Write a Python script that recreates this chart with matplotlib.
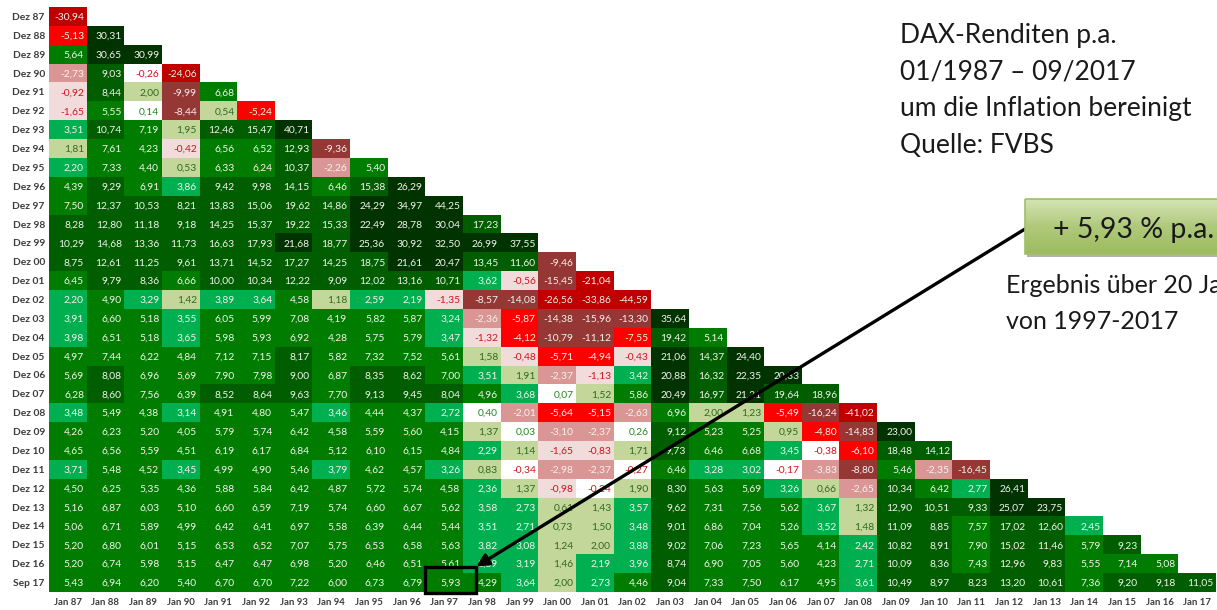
import numpy as np
import matplotlib
matplotlib.use("Agg")
import matplotlib.pyplot as plt
from matplotlib.colors import ListedColormap, BoundaryNorm, LinearSegmentedColormap
from matplotlib.patches import Rectangle

plt.rcParams["font.family"] = ["Lato", "DejaVu Sans"]

# real DAX returns p.a. (inflation adjusted): row = end of period, column = start
row_labels = ["Dez 87", "Dez 88", "Dez 89", "Dez 90", "Dez 91", "Dez 92", "Dez 93",
              "Dez 94", "Dez 95", "Dez 96", "Dez 97", "Dez 98", "Dez 99", "Dez 00",
              "Dez 01", "Dez 02", "Dez 03", "Dez 04", "Dez 05", "Dez 06", "Dez 07",
              "Dez 08", "Dez 09", "Dez 10", "Dez 11", "Dez 12", "Dez 13", "Dez 14",
              "Dez 15", "Dez 16", "Sep 17"]
col_labels = ["Jan 87", "Jan 88", "Jan 89", "Jan 90", "Jan 91", "Jan 92", "Jan 93",
              "Jan 94", "Jan 95", "Jan 96", "Jan 97", "Jan 98", "Jan 99", "Jan 00",
              "Jan 01", "Jan 02", "Jan 03", "Jan 04", "Jan 05", "Jan 06", "Jan 07",
              "Jan 08", "Jan 09", "Jan 10", "Jan 11", "Jan 12", "Jan 13", "Jan 14",
              "Jan 15", "Jan 16", "Jan 17"]

returns = [
    [-30.94],
    [-5.13, 30.31],
    [5.64, 30.65, 30.99],
    [-2.73, 9.03, -0.26, -24.06],
    [-0.92, 8.44, 2.00, -9.99, 6.68],
    [-1.65, 5.55, 0.14, -8.44, 0.54, -5.24],
    [3.51, 10.74, 7.19, 1.95, 12.46, 15.47, 40.71],
    [1.81, 7.61, 4.23, -0.42, 6.56, 6.52, 12.93, -9.36],
    [2.20, 7.33, 4.40, 0.53, 6.33, 6.24, 10.37, -2.26, 5.40],
    [4.39, 9.29, 6.91, 3.86, 9.42, 9.98, 14.15, 6.46, 15.38, 26.29],
    [7.50, 12.37, 10.53, 8.21, 13.83, 15.06, 19.62, 14.86, 24.29, 34.97, 44.25],
    [8.28, 12.80, 11.18, 9.18, 14.25, 15.37, 19.22, 15.33, 22.49, 28.78, 30.04, 17.23],
    [10.29, 14.68, 13.36, 11.73, 16.63, 17.93, 21.68, 18.77, 25.36, 30.92, 32.50, 26.99,
     37.55],
    [8.75, 12.61, 11.25, 9.61, 13.71, 14.52, 17.27, 14.25, 18.75, 21.61, 20.47, 13.45,
     11.60, -9.46],
    [6.45, 9.79, 8.36, 6.66, 10.00, 10.34, 12.22, 9.09, 12.02, 13.16, 10.71, 3.62,
     -0.56, -15.45, -21.04],
    [2.20, 4.90, 3.29, 1.42, 3.89, 3.64, 4.58, 1.18, 2.59, 2.19, -1.35, -8.57, -14.08,
     -26.56, -33.86, -44.59],
    [3.91, 6.60, 5.18, 3.55, 6.05, 5.99, 7.08, 4.19, 5.82, 5.87, 3.24, -2.36, -5.87,
     -14.38, -15.96, -13.30, 35.64],
    [3.98, 6.51, 5.18, 3.65, 5.98, 5.93, 6.92, 4.28, 5.75, 5.79, 3.47, -1.32, -4.12,
     -10.79, -11.12, -7.55, 19.42, 5.14],
    [4.97, 7.44, 6.22, 4.84, 7.12, 7.15, 8.17, 5.82, 7.32, 7.52, 5.61, 1.58, -0.48,
     -5.71, -4.94, -0.43, 21.06, 14.37, 24.40],
    [5.69, 8.08, 6.96, 5.69, 7.90, 7.98, 9.00, 6.87, 8.35, 8.62, 7.00, 3.51, 1.91,
     -2.37, -1.13, 3.42, 20.88, 16.32, 22.35, 20.33],
    [6.28, 8.60, 7.56, 6.39, 8.52, 8.64, 9.63, 7.70, 9.13, 9.45, 8.04, 4.96, 3.68,
     0.07, 1.52, 5.86, 20.49, 16.97, 21.21, 19.64, 18.96],
    [3.48, 5.49, 4.38, 3.14, 4.91, 4.80, 5.47, 3.46, 4.44, 4.37, 2.72, 0.40, -2.01,
     -5.64, -5.15, -2.63, 6.96, 2.00, 1.23, -5.49, -16.24, -41.02],
    [4.26, 6.23, 5.20, 4.05, 5.79, 5.74, 6.42, 4.58, 5.59, 5.60, 4.15, 1.37, 0.03,
     -3.10, -2.37, 0.26, 9.12, 5.23, 5.25, 0.95, -4.80, -14.83, 23.00],
    [4.65, 6.56, 5.59, 4.51, 6.19, 6.17, 6.84, 5.12, 6.10, 6.15, 4.84, 2.29, 1.14,
     -1.65, -0.83, 1.71, 9.73, 6.46, 6.68, 3.45, -0.38, -6.10, 18.48, 14.12],
    [3.71, 5.48, 4.52, 3.45, 4.99, 4.90, 5.46, 3.79, 4.62, 4.57, 3.26, 0.83, -0.34,
     -2.98, -2.37, -0.27, 6.46, 3.28, 3.02, -0.17, -3.83, -8.80, 5.46, -2.35, -16.45],
    [4.50, 6.25, 5.35, 4.36, 5.88, 5.84, 6.42, 4.87, 5.72, 5.74, 4.58, 2.36, 1.37,
     -0.98, -0.24, 1.90, 8.30, 5.63, 5.69, 3.26, 0.66, -2.65, 10.34, 6.42, 2.77, 26.41],
    [5.16, 6.87, 6.03, 5.10, 6.60, 6.59, 7.19, 5.74, 6.60, 6.67, 5.62, 3.58, 2.73,
     0.61, 1.43, 3.57, 9.62, 7.31, 7.56, 5.62, 3.67, 1.32, 12.90, 10.51, 9.33, 25.07,
     23.75],
    [5.06, 6.71, 5.89, 4.99, 6.42, 6.41, 6.97, 5.58, 6.39, 6.44, 5.44, 3.51, 2.71,
     0.73, 1.50, 3.48, 9.01, 6.86, 7.04, 5.26, 3.52, 1.48, 11.09, 8.85, 7.57, 17.02,
     12.60, 2.45],
    [5.20, 6.80, 6.01, 5.15, 6.53, 6.52, 7.07, 5.75, 6.53, 6.58, 5.63, 3.82, 3.08,
     1.24, 2.00, 3.88, 9.02, 7.06, 7.23, 5.65, 4.14, 2.42, 10.82, 8.91, 7.90, 15.02,
     11.46, 5.79, 9.23],
    [5.20, 6.74, 5.98, 5.15, 6.47, 6.47, 6.98, 5.20, 6.46, 6.51, 5.61, 3.89, 3.19,
     1.46, 2.19, 3.96, 8.74, 6.90, 7.05, 5.60, 4.23, 2.71, 10.09, 8.36, 7.43, 12.96,
     9.83, 5.55, 7.14, 5.08],
    [5.43, 6.94, 6.20, 5.40, 6.70, 6.70, 7.22, 6.00, 6.73, 6.79, 5.93, 4.29, 3.64,
     2.00, 2.73, 4.46, 9.04, 7.33, 7.50, 6.17, 4.95, 3.61, 10.49, 8.97, 8.23, 13.20,
     10.61, 7.36, 9.20, 9.18, 11.05],
]

highlight = ("Sep 17", "Jan 97")

# colour classes (Excel-like conditional formatting)
bounds = [-100, -20, -8, -4, -2, -0.4, 0.5, 2.005, 4, 8, 20, 100]
cell_colors = ["#C00000", "#953735", "#FF0000", "#DA9694", "#F2DCDB", "#FFFFFF",
               "#C4D79B", "#00B050", "#007D00", "#005E00", "#003300"]


def text_color(v):
    if -2 < v < 0:
        return "#D0121B"
    if -0.4 < v < 0.5:
        return "#1E8A1E"
    if 0.5 <= v <= 2.005:
        return "#2E6B1E"
    return "#F3F3EE"


n = len(row_labels)
grid = np.full((n, len(col_labels)), np.nan)
for r, vals in enumerate(returns):
    grid[r, :len(vals)] = vals

W, H = 1217, 610
fig = plt.figure(figsize=(W / 100, H / 100), dpi=100)
ax = fig.add_axes([49 / W, 1 - 592 / H, (1216 - 49) / W, (592 - 7) / H])

cmap = ListedColormap(cell_colors)
cmap.set_bad("white")
ax.imshow(np.ma.masked_invalid(grid), cmap=cmap,
          norm=BoundaryNorm(bounds, cmap.N), aspect="auto",
          extent=(0, grid.shape[1], n, 0), interpolation="nearest")

for r, vals in enumerate(returns):
    for c, v in enumerate(vals):
        ax.text(c + 0.93, r + 0.55, f"{v:.2f}".replace(".", ","), ha="right",
                va="center", fontsize=7.4, color=text_color(v))

ax.set_xticks(np.arange(len(col_labels)) + 0.5)
ax.set_xticklabels(col_labels, fontsize=6.9, fontweight="bold", color="#3C3C3C")
ax.set_yticks(np.arange(n) + 0.5)
ax.set_yticklabels(row_labels, fontsize=7.4, fontweight="bold", color="#3C3C3C")
ax.tick_params(length=0, pad=3)
ax.tick_params(axis="x", pad=4)
for s in ax.spines.values():
    s.set_visible(False)
ax.set_xlim(0, grid.shape[1])
ax.set_ylim(n, 0)

# highlighted 20-year result
hr = row_labels.index(highlight[0])
hc = col_labels.index(highlight[1])
ax.add_patch(Rectangle((hc, hr - 0.35), 1.35, 1.38, fill=False, ec="black",
                       lw=2.4, clip_on=False, zorder=5))

# overlay in pixel coordinates for the annotations
ov = fig.add_axes([0, 0, 1, 1])
ov.axis("off")
ov.patch.set_alpha(0)

title_lines = ["DAX-Renditen p.a.", "01/1987 \u2013 09/2017",
               "um die Inflation bereinigt", "Quelle: FVBS"]
for i, line in enumerate(title_lines):
    ov.text(900, 43 + i * 36.7, line, fontsize=19, color="#1A1A1A",
            va="baseline", ha="left")

# green result box with a soft gradient
ov.add_patch(Rectangle((1027, 201), 200, 56, fc="#7F7F7F", ec="none", alpha=0.6))
grad = np.linspace(0, 1, 50)[:, None]
ov.imshow(grad, cmap=LinearSegmentedColormap.from_list(
              "g", ["#D3E4B4", "#AFC97B", "#9DBC5E"]),
          extent=(1025, 1230, 254, 199), aspect="auto", zorder=2)
ov.add_patch(Rectangle((1025, 199), 205, 55, fill=False, ec="#A2BE67", lw=1.2,
                       zorder=3))
ov.set_xlim(0, W)
ov.set_ylim(H, 0)
ov.text(1053, 238, "+ 5,93 % p.a.", fontsize=20.5, color="#1A1A1A", va="baseline",
        ha="left", zorder=4)
ov.text(1006, 293, "Ergebnis \u00fcber 20 Jahre", fontsize=18, color="#1A1A1A",
        va="baseline", ha="left")
ov.text(1006, 329, "von 1997-2017", fontsize=18, color="#1A1A1A",
        va="baseline", ha="left")

ax.annotate("", xy=(hc + 1.35, hr - 0.35), xycoords="data",
            xytext=(1025 / W, 1 - 229 / H), textcoords="figure fraction",
            arrowprops=dict(arrowstyle="-|>", lw=2.4, color="black",
                            mutation_scale=18, shrinkA=0, shrinkB=0),
            annotation_clip=False, zorder=6)

fig.savefig("out.png", dpi=100)
